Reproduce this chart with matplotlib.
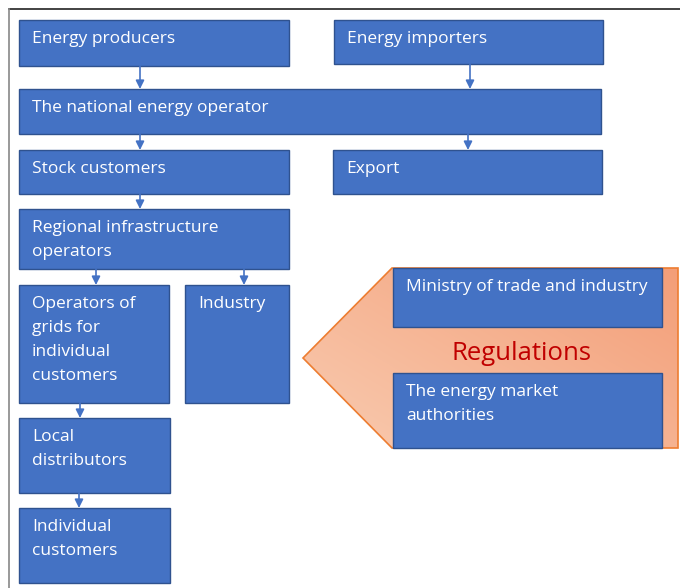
import matplotlib
matplotlib.use('Agg')

import matplotlib.pyplot as plt
import numpy as np
from matplotlib.patches import Rectangle, Polygon

# box labels and their frames (left, top, right, bottom in pixels)
labels = ["Energy producers", "Energy importers", "The national energy operator",
          "Stock customers", "Export", "Regional infrastructure\noperators",
          "Operators of\ngrids for\nindividual\ncustomers", "Industry",
          "Local\ndistributors", "Individual\ncustomers",
          "Ministry of trade and industry", "The energy market\nauthorities"]
frames = [(19, 20, 289, 66), (334, 20, 603, 64), (19, 89, 601, 134),
          (19, 150, 289, 194), (333, 150, 602, 194), (19, 209, 289, 269),
          (19, 285, 169, 403), (185, 285, 289, 403),
          (19, 418, 170, 493), (19, 508, 170, 583),
          (393, 268, 662, 327), (393, 373, 662, 448)]

# connector arrows (x, y_start, y_end)
arrows = [(140, 66, 89), (470, 64, 89), (140, 134, 150), (468, 134, 150),
          (140, 194, 209), (96, 269, 285), (244, 269, 285),
          (80, 403, 418), (79, 493, 508)]

# regulation arrow outline
reg_shape = [(303, 358), (392, 268), (678, 268), (678, 448), (392, 448)]

BLUE = "#4472C4"
EDGE = "#2F528F"

plt.rcParams['font.family'] = ['Open Sans', 'DejaVu Sans']

fig = plt.figure(figsize=(6.8, 5.88), dpi=100)
ax = fig.add_axes([0, 0, 1, 1])
ax.set_xlim(0, 680)
ax.set_ylim(588, 0)
ax.axis('off')

# outer frame (top and left edges)
ax.plot([8.5, 680], [8.5, 8.5], color="#222222", lw=1.2)
ax.plot([8.5, 8.5], [8.5, 588], color="#888888", lw=1.2)

# orange regulation arrow with gradient
poly = Polygon(reg_shape, closed=True, facecolor="none", edgecolor="#ED7D31", lw=1.2, zorder=2)
ax.add_patch(poly)
gx = np.linspace(0, 1, 200)
gy = np.linspace(0, 1, 200)
GX, GY = np.meshgrid(gx, gy)
t = np.clip(0.55 * GX + 0.45 * (1 - GY), 0, 1)
c0 = np.array([0xF9, 0xCB, 0xB0]) / 255
c1 = np.array([0xF3, 0x9E, 0x78]) / 255
img = c0[None, None, :] * (1 - t[..., None]) + c1[None, None, :] * t[..., None]
im = ax.imshow(img, extent=(303, 678, 448, 268), zorder=1, aspect='auto')
clip = Polygon(reg_shape, closed=True, transform=ax.transData)
im.set_clip_path(clip)

for lab, (l, t0, r, b) in zip(labels, frames):
    ax.add_patch(Rectangle((l, t0), r - l, b - t0, facecolor=BLUE, edgecolor=EDGE,
                           lw=1.0, zorder=3))
    ax.text(l + 13, t0 + 11, lab, color="white", fontsize=12.5, va="top", ha="left",
            linespacing=1.68, zorder=4)

for x, y0, y1 in arrows:
    ax.annotate("", xy=(x, y1), xytext=(x, y0),
                arrowprops=dict(arrowstyle="-|>,head_length=0.5,head_width=0.25",
                                color=BLUE, lw=1.2, shrinkA=0, shrinkB=0), zorder=4)

ax.text(521, 354, "Regulations", color="#C00000", fontsize=18.5, ha="center",
        va="center", zorder=4)

fig.savefig("out.png", dpi=100)
